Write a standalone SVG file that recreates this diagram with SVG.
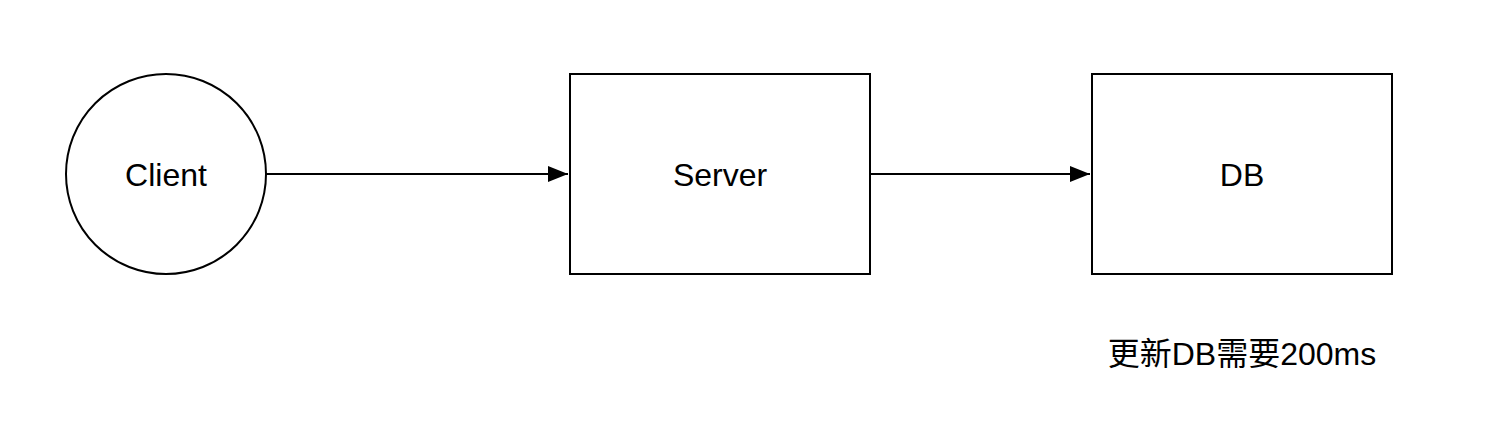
<svg xmlns="http://www.w3.org/2000/svg" width="1488" height="442" viewBox="0 0 1488 442">
<style>
.shape{fill:#fff;stroke:#000;stroke-width:2}
.lbl{font-family:"Liberation Sans","Noto Sans CJK SC",sans-serif;font-size:32px;fill:#000;text-anchor:middle}
.conn{stroke:#000;stroke-width:2;fill:none}
</style>
<defs>
<marker id="arrow" viewBox="0 0 20 16" refX="20" refY="8" markerWidth="20" markerHeight="16" markerUnits="userSpaceOnUse" orient="auto">
<path d="M0,0 L20,8 L0,16 z" fill="#000"/>
</marker>
</defs>
<rect width="1488" height="442" fill="#fff"/>
<g id="connectors">
<line class="conn" x1="266" y1="174" x2="568" y2="174" marker-end="url(#arrow)"/>
<line class="conn" x1="870" y1="174" x2="1090" y2="174" marker-end="url(#arrow)"/>
</g>
<g id="client">
<circle class="shape" cx="166" cy="174" r="100"/>
<text class="lbl" x="166" y="186">Client</text>
</g>
<g id="server">
<rect class="shape" x="570" y="74" width="300" height="200"/>
<text class="lbl" x="720" y="186">Server</text>
</g>
<g id="db">
<rect class="shape" x="1092" y="74" width="300" height="200"/>
<text class="lbl" x="1242" y="186">DB</text>
</g>
<g id="note">
<text class="lbl" x="1242" y="365">更新DB需要200ms</text>
</g>
</svg>
